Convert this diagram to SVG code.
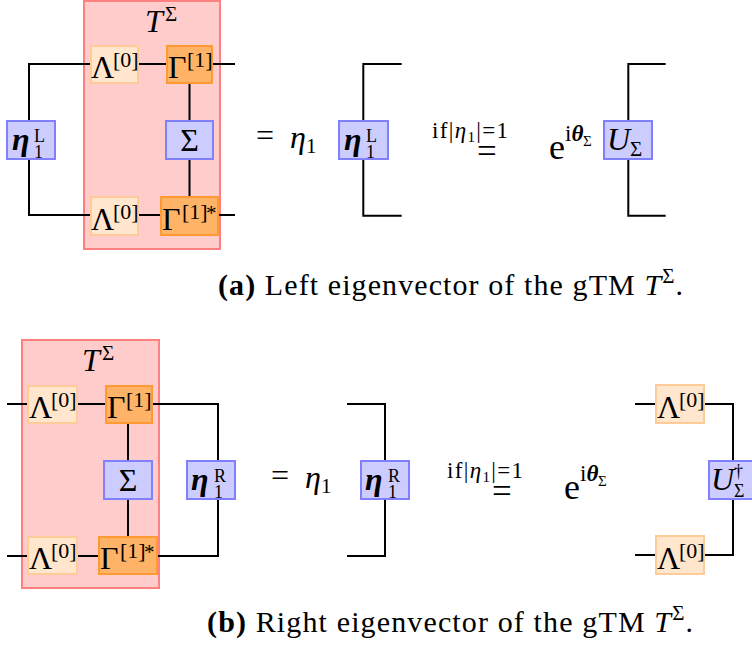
<svg xmlns="http://www.w3.org/2000/svg" width="752" height="648" viewBox="0 0 752 648">
<style>
text{font-family:"Liberation Serif","DejaVu Serif",serif;fill:#000}
.m{font-size:32px}
.s{font-size:21px}
.sb{font-size:22px}
.sl{font-size:18px}
.ss{font-size:15px}
.it{font-style:italic}
.bi{font-style:italic;font-weight:bold}
.b{font-weight:bold}
.cap{font-size:30px}
.blue{fill:#ccccff;stroke:#8080ff;stroke-width:2}
.lam{fill:#ffe6cc;stroke:#ffcc99;stroke-width:2}
.gam{fill:#ffb366;stroke:#ff9933;stroke-width:2}
.red{fill:#ffcccc;stroke:#ff8080;stroke-width:2}
.w{fill:none;stroke:#000;stroke-width:2}
</style>
<rect width="752" height="648" fill="#fff"/>

<!-- ===== Panel (a) ===== -->
<g id="a_T">
<rect class="red" x="84" y="1" width="136" height="248"/>
<text class="m it" x="145" y="32">T</text><text class="s" x="165" y="21">Σ</text>
</g>
<g id="a_conn">
<path class="w" d="M29,121 V64 H91 M138,64 H167 M212,64 H235 M29,159 V215 H91 M138,215 H161 M218,215 H235 M189.5,83 V121 M189.5,159 V197"/>
<path class="w" d="M401.7,64 H363.3 V121 M363.3,159 V215.7 H401.7"/>
<path class="w" d="M665.7,64 H628.3 V121 M628.3,159 V215.7 H665.7"/>
</g>
<g id="a_lam1">
<rect class="lam" x="91" y="46" width="47" height="37"/>
<text class="m" x="91" y="78">Λ</text><text class="sb" x="113" y="67">[0]</text>
</g>
<g id="a_gam1">
<rect class="gam" x="167" y="46" width="45" height="37"/>
<text class="m" x="168" y="78">Γ</text><text class="sb" x="187" y="67">[1]</text>
</g>
<g id="a_sigma">
<rect class="blue" x="166" y="121" width="47" height="38"/>
<text class="m" x="189.5" y="151" text-anchor="middle">Σ</text>
</g>
<g id="a_lam2">
<rect class="lam" x="91" y="197" width="47" height="38"/>
<text class="m" x="91" y="230">Λ</text><text class="sb" x="113" y="219">[0]</text>
</g>
<g id="a_gam2">
<rect class="gam" x="161" y="197" width="57" height="38"/>
<text class="m" x="162" y="230">Γ</text><text class="sb" x="182" y="219">[1]</text><text class="s" x="206" y="220">*</text>
</g>
<g id="a_etaL">
<rect class="blue" x="7" y="121" width="48" height="38"/>
<text class="m bi" x="12" y="150">η</text><text class="sl" x="34" y="142">L</text><text class="sl" x="34" y="158">1</text>
</g>
<g id="a_eq">
<text class="m" x="256" y="146">=</text>
<text class="m it" x="290" y="148">η</text><text class="s" x="306" y="153">1</text>
</g>
<g id="a_etaL2">
<rect class="blue" x="339" y="121" width="49" height="38"/>
<text class="m bi" x="344" y="150">η</text><text class="sl" x="366" y="142">L</text><text class="sl" x="366" y="158">1</text>
</g>
<g id="a_if">
<text style="font-size:23px" x="432" y="138" textLength="76" lengthAdjust="spacing">if|<tspan class="it">η</tspan><tspan class="ss" dy="4">1</tspan><tspan dy="-4">|=1</tspan></text>
<text style="font-size:35px" x="477" y="163">=</text>
</g>
<g id="a_exp">
<text x="549" y="159" style="font-size:36px">e</text>
<text style="font-size:23px" x="565" y="141">i<tspan class="bi">θ</tspan></text><text class="ss" x="583" y="146">Σ</text>
</g>
<g id="a_U">
<rect class="blue" x="604" y="121" width="48" height="38"/>
<text class="m it" x="607" y="150">U</text><text class="s" x="630" y="156">Σ</text>
</g>
<text class="cap" x="218" y="295" textLength="465" lengthAdjust="spacing"><tspan class="b">(a)</tspan> Left eigenvector of the gTM <tspan class="it">T</tspan><tspan style="font-size:21px" dy="-12">Σ</tspan><tspan dy="12">.</tspan></text>

<!-- ===== Panel (b) ===== -->
<g id="b_T">
<rect class="red" x="22" y="340" width="137" height="248"/>
<text class="m it" x="82" y="371">T</text><text class="s" x="102" y="360">Σ</text>
</g>
<g id="b_conn">
<path class="w" d="M7,404 H28 M77,404 H106 M152,404 H218 V461 M218,499 V556 H157 M7,556 H28 M77,556 H99 M128,423 V461 M128,499 V537"/>
<path class="w" d="M347,404 H385 V461 M385,499 V556 H347"/>
<path class="w" d="M635,404 H656 M704,404 H733 V461 M733,499 V555 H704 M635,555 H656"/>
</g>
<g id="b_lam1">
<rect class="lam" x="28" y="386" width="49" height="37"/>
<text class="m" x="29" y="418">Λ</text><text class="sb" x="51" y="407">[0]</text>
</g>
<g id="b_gam1">
<rect class="gam" x="106" y="386" width="46" height="37"/>
<text class="m" x="107" y="418">Γ</text><text class="sb" x="126" y="407">[1]</text>
</g>
<g id="b_sigma">
<rect class="blue" x="104" y="461" width="48" height="38"/>
<text class="m" x="128" y="491" text-anchor="middle">Σ</text>
</g>
<g id="b_lam2">
<rect class="lam" x="28" y="537" width="49" height="37"/>
<text class="m" x="29" y="569">Λ</text><text class="sb" x="51" y="558">[0]</text>
</g>
<g id="b_gam2">
<rect class="gam" x="99" y="537" width="58" height="37"/>
<text class="m" x="100" y="569">Γ</text><text class="sb" x="120" y="558">[1]</text><text class="s" x="144" y="559">*</text>
</g>
<g id="b_etaR">
<rect class="blue" x="187" y="461" width="48" height="38"/>
<text class="m bi" x="191" y="490">η</text><text class="sl" x="214" y="482">R</text><text class="sl" x="214" y="498">1</text>
</g>
<g id="b_eq">
<text class="m" x="271" y="486">=</text>
<text class="m it" x="305" y="488">η</text><text class="s" x="321" y="493">1</text>
</g>
<g id="b_etaR2">
<rect class="blue" x="361" y="461" width="48" height="38"/>
<text class="m bi" x="365" y="490">η</text><text class="sl" x="388" y="482">R</text><text class="sl" x="388" y="498">1</text>
</g>
<g id="b_if">
<text style="font-size:23px" x="447" y="478" textLength="76" lengthAdjust="spacing">if|<tspan class="it">η</tspan><tspan class="ss" dy="4">1</tspan><tspan dy="-4">|=1</tspan></text>
<text style="font-size:35px" x="492" y="503">=</text>
</g>
<g id="b_exp">
<text x="564" y="499" style="font-size:36px">e</text>
<text style="font-size:23px" x="580" y="481">i<tspan class="bi">θ</tspan></text><text class="ss" x="598" y="486">Σ</text>
</g>
<g id="b_lam3">
<rect class="lam" x="656" y="385" width="48" height="38"/>
<text class="m" x="657" y="418">Λ</text><text class="sb" x="679" y="407">[0]</text>
</g>
<g id="b_lam4">
<rect class="lam" x="656" y="536" width="48" height="38"/>
<text class="m" x="657" y="569">Λ</text><text class="sb" x="679" y="558">[0]</text>
</g>
<g id="b_U">
<rect class="blue" x="709" y="461" width="48" height="38"/>
<text class="m it" x="711" y="490">U</text><text class="sl" x="734" y="477">†</text><text class="sl" x="734" y="497">Σ</text>
</g>
<text class="cap" x="207" y="632" textLength="486" lengthAdjust="spacing"><tspan class="b">(b)</tspan> Right eigenvector of the gTM <tspan class="it">T</tspan><tspan style="font-size:21px" dy="-12">Σ</tspan><tspan dy="12">.</tspan></text>
</svg>
